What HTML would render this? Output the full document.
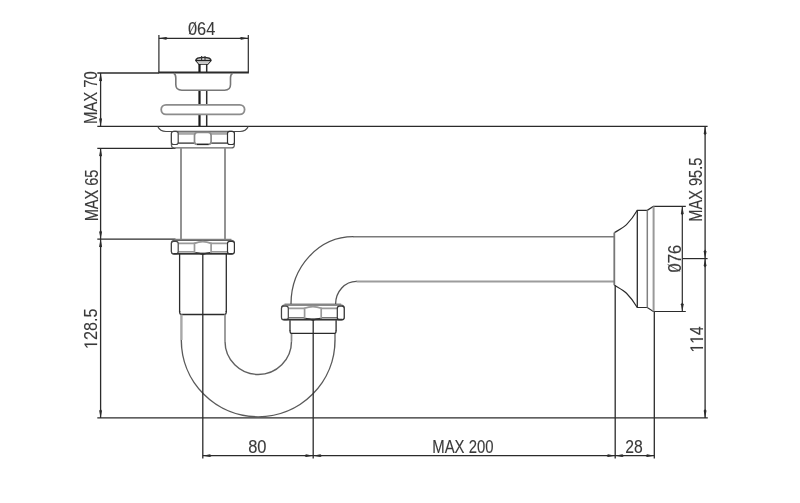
<!DOCTYPE html>
<html><head><meta charset="utf-8"><style>
html,body{margin:0;padding:0;background:#fff;width:800px;height:503px;overflow:hidden}
svg{display:block}
text{font-family:"Liberation Sans",sans-serif}
.t{opacity:0.999}
</style></head><body>
<svg width="800" height="503" viewBox="0 0 800 503">
<rect width="800" height="503" fill="#fff"/>
<line x1="97.30" y1="72.90" x2="158.90" y2="72.90" stroke="#2b2b2b" stroke-width="1.50"/>
<line x1="158.30" y1="72.50" x2="248.90" y2="72.50" stroke="#2b2b2b" stroke-width="2.20"/>
<line x1="97.30" y1="126.30" x2="707.60" y2="126.30" stroke="#2b2b2b" stroke-width="1.30"/>
<line x1="97.30" y1="148.30" x2="175.50" y2="148.30" stroke="#2b2b2b" stroke-width="1.20"/>
<line x1="97.30" y1="239.10" x2="175.50" y2="239.10" stroke="#2b2b2b" stroke-width="1.20"/>
<line x1="97.30" y1="417.90" x2="707.80" y2="417.90" stroke="#2b2b2b" stroke-width="1.40"/>
<line x1="100.60" y1="73.00" x2="100.60" y2="126.30" stroke="#2b2b2b" stroke-width="1.30"/>
<polygon points="100.60,73.00 99.20,80.20 100.60,82.00 102.00,80.20" fill="#2b2b2b"/>
<polygon points="100.60,126.30 99.20,119.10 100.60,117.30 102.00,119.10" fill="#2b2b2b"/>
<line x1="100.60" y1="148.30" x2="100.60" y2="417.90" stroke="#2b2b2b" stroke-width="1.30"/>
<polygon points="100.60,148.30 99.20,155.50 100.60,157.30 102.00,155.50" fill="#2b2b2b"/>
<polygon points="100.60,239.10 99.20,231.90 100.60,230.10 102.00,231.90" fill="#2b2b2b"/>
<polygon points="100.60,239.10 99.20,246.30 100.60,248.10 102.00,246.30" fill="#2b2b2b"/>
<polygon points="100.60,417.90 99.20,410.70 100.60,408.90 102.00,410.70" fill="#2b2b2b"/>
<line x1="158.90" y1="35.00" x2="158.90" y2="72.30" stroke="#2b2b2b" stroke-width="1.20"/>
<line x1="248.30" y1="35.00" x2="248.30" y2="72.30" stroke="#2b2b2b" stroke-width="1.20"/>
<line x1="158.90" y1="38.30" x2="248.30" y2="38.30" stroke="#2b2b2b" stroke-width="1.20"/>
<polygon points="158.90,38.30 166.10,36.90 167.90,38.30 166.10,39.70" fill="#2b2b2b"/>
<polygon points="248.30,38.30 241.10,36.90 239.30,38.30 241.10,39.70" fill="#2b2b2b"/>
<path d="M195.8,60.4 C196.2,56.6 210.6,56.6 211.0,60.4 L207.6,64.2 L199.2,64.2 Z" fill="white" stroke="#2a2a2a" stroke-width="1.4"/>
<path d="M196.3,60.6 L199.2,64.2 L207.6,64.2 L210.5,60.6 Z" fill="#c8c8c8"/>
<line x1="195.80" y1="60.40" x2="211.00" y2="60.40" stroke="#222" stroke-width="1.40"/>
<line x1="201.60" y1="56.00" x2="201.60" y2="60.00" stroke="#333" stroke-width="1.10"/>
<line x1="205.00" y1="56.00" x2="205.00" y2="60.00" stroke="#333" stroke-width="1.10"/>
<line x1="199.50" y1="64.00" x2="199.50" y2="72.00" stroke="#1a1a1a" stroke-width="2.20"/>
<line x1="206.70" y1="64.00" x2="206.70" y2="72.00" stroke="#2b2b2b" stroke-width="1.50"/>
<line x1="199.50" y1="90.50" x2="199.50" y2="104.50" stroke="#1a1a1a" stroke-width="2.20"/>
<line x1="206.70" y1="90.50" x2="206.70" y2="104.50" stroke="#2b2b2b" stroke-width="1.50"/>
<line x1="199.50" y1="114.50" x2="199.50" y2="126.00" stroke="#1a1a1a" stroke-width="2.20"/>
<line x1="206.70" y1="114.50" x2="206.70" y2="126.00" stroke="#2b2b2b" stroke-width="1.50"/>
<path d="M173.7,73.2 Q175.8,74.2 175.8,78 L175.8,84.5 Q175.8,90.2 181.8,90.2 L224.6,90.2 Q230.5,90.2 230.5,84.5 L230.5,78 Q230.5,74.2 232.6,73.2" fill="none" stroke="#777" stroke-width="1.6"/>
<rect x="161.2" y="104.8" width="83.4" height="9.6" rx="4.8" fill="none" stroke="#8c8c8c" stroke-width="1.8"/>
<path d="M157.8,126.5 Q160,131.5 166,131.5 L240,131.5 Q246,131.5 248.2,126.5" fill="none" stroke="#4a4a4a" stroke-width="1.2"/>
<rect x="171.40" y="131.30" width="63.00" height="16.60" rx="3" fill="white" stroke="#666" stroke-width="1.2"/><rect x="178.20" y="131.80" width="49.30" height="3.00" fill="#a8a8a8"/><rect x="171.40" y="131.30" width="6.80" height="13.20" rx="2.2" fill="white" stroke="#444" stroke-width="1.2"/><rect x="227.50" y="131.30" width="6.90" height="13.20" rx="2.2" fill="white" stroke="#333" stroke-width="1.2"/><line x1="178.20" y1="143.10" x2="194.50" y2="143.10" stroke="#222" stroke-width="1.20"/><line x1="211.10" y1="143.10" x2="227.50" y2="143.10" stroke="#222" stroke-width="1.20"/><rect x="194.50" y="132.50" width="16.60" height="12.00" rx="3" fill="white" stroke="#8a8a8a" stroke-width="1.7"/><line x1="197.00" y1="144.30" x2="208.60" y2="144.30" stroke="#222" stroke-width="1.30"/>
<line x1="181.00" y1="148.00" x2="181.00" y2="239.10" stroke="#8e8e8e" stroke-width="1.90"/>
<line x1="225.00" y1="148.00" x2="225.00" y2="239.10" stroke="#8e8e8e" stroke-width="1.90"/>
<line x1="174.40" y1="239.30" x2="231.40" y2="239.30" stroke="#888" stroke-width="1.30"/><rect x="171.40" y="240.30" width="63.00" height="13.90" rx="3" fill="white" stroke="#666" stroke-width="1.2"/><line x1="178.20" y1="243.40" x2="227.50" y2="243.40" stroke="#9a9a9a" stroke-width="1.70"/><line x1="178.20" y1="251.90" x2="227.50" y2="251.90" stroke="#777" stroke-width="1.30"/><rect x="171.40" y="241.30" width="6.80" height="12.50" rx="2.2" fill="white" stroke="#444" stroke-width="1.2"/><rect x="227.50" y="241.30" width="6.90" height="12.50" rx="2.2" fill="white" stroke="#333" stroke-width="1.2"/><path d="M194.50,253.00 L194.50,243.40 Q202.80,240.00 211.10,243.40 L211.10,253.00 Z" fill="white" stroke="#999" stroke-width="1.7"/><line x1="173.40" y1="253.70" x2="232.40" y2="253.70" stroke="#333" stroke-width="1.30"/><path d="M195.50,252.60 Q199.80,253.00 202.80,254.40 Q205.80,253.00 210.10,252.60" fill="none" stroke="#333" stroke-width="1.2"/>
<line x1="179.60" y1="254.00" x2="179.60" y2="312.00" stroke="#2b2b2b" stroke-width="1.30"/>
<line x1="226.30" y1="254.00" x2="226.30" y2="312.00" stroke="#2b2b2b" stroke-width="1.30"/>
<path d="M179.6,311 Q179.6,314.5 181,314.5 L225,314.5 Q226.3,314.5 226.3,311" fill="none" stroke="#2b2b2b" stroke-width="1.3"/>
<line x1="181.40" y1="314.50" x2="181.40" y2="340.00" stroke="#a8a8a8" stroke-width="2.40"/>
<line x1="335.00" y1="333.40" x2="335.00" y2="340.00" stroke="#8a8a8a" stroke-width="1.80"/>
<path d="M181.3,340 A76.85,76.85 0 0 0 258.15,416.85 A76.85,76.85 0 0 0 335,340" fill="none" stroke="#5a5a5a" stroke-width="1.4"/>
<line x1="225.00" y1="314.50" x2="225.00" y2="341.20" stroke="#999" stroke-width="1.90"/>
<line x1="291.50" y1="333.40" x2="291.50" y2="341.20" stroke="#888" stroke-width="1.70"/>
<path d="M225.0,341.2 A33.25,33.25 0 0 0 258.25,374.45 A33.25,33.25 0 0 0 291.5,341.2" fill="none" stroke="#606060" stroke-width="1.4"/>
<line x1="290.00" y1="320.00" x2="290.00" y2="331.00" stroke="#2b2b2b" stroke-width="1.30"/>
<line x1="336.10" y1="320.00" x2="336.10" y2="331.00" stroke="#2b2b2b" stroke-width="1.30"/>
<path d="M290,330.5 Q290,333.4 291.5,333.4 L334.6,333.4 Q336.1,333.4 336.1,330.5" fill="none" stroke="#2b2b2b" stroke-width="1.3"/>
<line x1="284.50" y1="304.20" x2="341.20" y2="304.20" stroke="#888" stroke-width="1.30"/><rect x="281.50" y="305.20" width="62.70" height="14.80" rx="3" fill="white" stroke="#666" stroke-width="1.2"/><line x1="288.30" y1="308.30" x2="337.30" y2="308.30" stroke="#9a9a9a" stroke-width="1.70"/><line x1="288.30" y1="317.70" x2="337.30" y2="317.70" stroke="#777" stroke-width="1.30"/><rect x="281.50" y="306.20" width="6.80" height="13.40" rx="2.2" fill="white" stroke="#444" stroke-width="1.2"/><rect x="337.30" y="306.20" width="6.90" height="13.40" rx="2.2" fill="white" stroke="#333" stroke-width="1.2"/><path d="M304.60,318.80 L304.60,308.30 Q312.90,304.90 321.20,308.30 L321.20,318.80 Z" fill="white" stroke="#999" stroke-width="1.7"/><line x1="283.50" y1="319.50" x2="342.20" y2="319.50" stroke="#333" stroke-width="1.30"/><path d="M305.60,318.40 Q309.90,318.80 312.90,320.20 Q315.90,318.80 320.20,318.40" fill="none" stroke="#333" stroke-width="1.2"/>
<path d="M291,304 A62.4,67.3 0 0 1 353.4,236.7 L354,236.7" fill="none" stroke="#555" stroke-width="1.3"/>
<line x1="353.40" y1="236.80" x2="614.30" y2="236.80" stroke="#7a7a7a" stroke-width="1.60"/>
<path d="M335.6,304 A20.9,22.8 0 0 1 356.5,281.3 L357,281.3" fill="none" stroke="#555" stroke-width="1.3"/>
<line x1="356.50" y1="281.50" x2="614.30" y2="281.50" stroke="#9c9c9c" stroke-width="2.20"/>
<line x1="614.30" y1="232.60" x2="614.30" y2="285.20" stroke="#777" stroke-width="1.80"/>
<path d="M614.5,232.6 C620,229.3 623.5,227.5 626.5,224.6 C630.5,220.6 634,216 637.3,210.3 L647.3,210.3 L653.3,206.4 L685.8,206.4" fill="none" stroke="#2b2b2b" stroke-width="1.2"/>
<path d="M614.5,285.2 C620,288.5 623.5,290.3 626.5,293.2 C630.5,297.2 634,301.8 637.3,307.5 L647.3,307.5 L653.3,311.5 L685.8,311.5" fill="none" stroke="#2b2b2b" stroke-width="1.2"/>
<line x1="637.30" y1="210.30" x2="637.30" y2="307.50" stroke="#2b2b2b" stroke-width="1.30"/>
<line x1="647.30" y1="210.30" x2="647.30" y2="307.50" stroke="#808080" stroke-width="1.50"/>
<line x1="653.60" y1="206.40" x2="653.60" y2="311.50" stroke="#999" stroke-width="2.00"/>
<line x1="202.80" y1="254.00" x2="202.80" y2="458.60" stroke="#2b2b2b" stroke-width="1.30"/>
<line x1="313.20" y1="320.00" x2="313.20" y2="458.60" stroke="#2b2b2b" stroke-width="1.30"/>
<line x1="615.20" y1="285.20" x2="615.20" y2="458.40" stroke="#2b2b2b" stroke-width="1.30"/>
<line x1="654.30" y1="311.50" x2="654.30" y2="458.40" stroke="#2b2b2b" stroke-width="1.30"/>
<line x1="202.80" y1="455.70" x2="654.30" y2="455.70" stroke="#2b2b2b" stroke-width="1.30"/>
<polygon points="202.80,455.70 210.00,454.30 211.80,455.70 210.00,457.10" fill="#2b2b2b"/>
<polygon points="313.20,455.70 306.00,454.30 304.20,455.70 306.00,457.10" fill="#2b2b2b"/>
<polygon points="313.20,455.70 320.40,454.30 322.20,455.70 320.40,457.10" fill="#2b2b2b"/>
<polygon points="615.20,455.70 608.00,454.30 606.20,455.70 608.00,457.10" fill="#2b2b2b"/>
<polygon points="615.20,455.70 622.40,454.30 624.20,455.70 622.40,457.10" fill="#2b2b2b"/>
<polygon points="654.30,455.70 647.10,454.30 645.30,455.70 647.10,457.10" fill="#2b2b2b"/>
<line x1="682.30" y1="206.40" x2="682.30" y2="311.50" stroke="#2b2b2b" stroke-width="1.20"/>
<polygon points="682.30,206.40 680.90,213.60 682.30,215.40 683.70,213.60" fill="#2b2b2b"/>
<polygon points="682.30,311.50 680.90,304.30 682.30,302.50 683.70,304.30" fill="#2b2b2b"/>
<line x1="682.30" y1="258.60" x2="707.60" y2="258.60" stroke="#2b2b2b" stroke-width="1.20"/>
<line x1="705.10" y1="126.30" x2="705.10" y2="417.90" stroke="#2b2b2b" stroke-width="1.30"/>
<polygon points="705.10,126.30 703.70,133.50 705.10,135.30 706.50,133.50" fill="#2b2b2b"/>
<polygon points="705.10,258.60 703.70,251.40 705.10,249.60 706.50,251.40" fill="#2b2b2b"/>
<polygon points="705.10,258.60 703.70,265.80 705.10,267.60 706.50,265.80" fill="#2b2b2b"/>
<polygon points="705.10,417.90 703.70,410.70 705.10,408.90 706.50,410.70" fill="#2b2b2b"/>
<g class="t"><g transform="translate(97.40,97.25) rotate(-90) scale(0.813,1)"><text x="-32.94" y="0" font-size="18.30" fill="#3a3a3a" stroke="#3a3a3a" stroke-width="0.12">MAX 70</text></g>
<g transform="translate(97.50,195.15) rotate(-90) scale(0.795,1)"><text x="-32.91" y="0" font-size="18.30" fill="#3a3a3a" stroke="#3a3a3a" stroke-width="0.12">MAX 65</text></g>
<g transform="translate(97.10,328.30) rotate(-90) scale(0.884,1)"><text x="-23.39" y="0" font-size="18.30" fill="#3a3a3a" stroke="#3a3a3a" stroke-width="0.12"> 28.5</text><path transform="translate(-23.393,0) scale(0.00894,-0.00894)" d="M515,0 L515,1237 L197,1010 L197,1180 L530,1409 L696,1409 L696,0 Z" fill="#3a3a3a" stroke="#3a3a3a" stroke-width="13.4"/></g>
<g transform="translate(201.70,34.60) scale(0.896,1)"><text x="-15.36" y="0" font-size="18.30" fill="#3a3a3a" stroke="#3a3a3a" stroke-width="0.12">064</text><line x1="-14.02" y1="-0.36" x2="-6.51" y2="-12.87" stroke="#3a3a3a" stroke-width="0.9"/></g>
<g transform="translate(257.35,452.60) scale(0.900,1)"><text x="-10.22" y="0" font-size="18.30" fill="#3a3a3a" stroke="#3a3a3a" stroke-width="0.12">80</text></g>
<g transform="translate(463.25,452.50) scale(0.814,1)"><text x="-38.03" y="0" font-size="18.30" fill="#3a3a3a" stroke="#3a3a3a" stroke-width="0.12">MAX 200</text></g>
<g transform="translate(634.10,452.60) scale(0.860,1)"><text x="-10.24" y="0" font-size="18.30" fill="#3a3a3a" stroke="#3a3a3a" stroke-width="0.12">28</text></g>
<g transform="translate(680.50,258.65) rotate(-90) scale(0.908,1)"><text x="-15.22" y="0" font-size="18.30" fill="#3a3a3a" stroke="#3a3a3a" stroke-width="0.12">076</text><line x1="-13.88" y1="-0.36" x2="-6.38" y2="-12.87" stroke="#3a3a3a" stroke-width="0.9"/></g>
<g transform="translate(701.50,189.35) rotate(-90) scale(0.798,1)"><text x="-40.55" y="0" font-size="18.30" fill="#3a3a3a" stroke="#3a3a3a" stroke-width="0.12">MAX 95.5</text></g>
<g transform="translate(703.00,338.80) rotate(-90) scale(0.857,1)"><text x="-15.88" y="0" font-size="18.30" fill="#3a3a3a" stroke="#3a3a3a" stroke-width="0.12">  4</text><path transform="translate(-15.878,0) scale(0.00894,-0.00894)" d="M515,0 L515,1237 L197,1010 L197,1180 L530,1409 L696,1409 L696,0 Z" fill="#3a3a3a" stroke="#3a3a3a" stroke-width="13.4"/><path transform="translate(-5.701,0) scale(0.00894,-0.00894)" d="M515,0 L515,1237 L197,1010 L197,1180 L530,1409 L696,1409 L696,0 Z" fill="#3a3a3a" stroke="#3a3a3a" stroke-width="13.4"/></g></g>
</svg>
</body></html>
